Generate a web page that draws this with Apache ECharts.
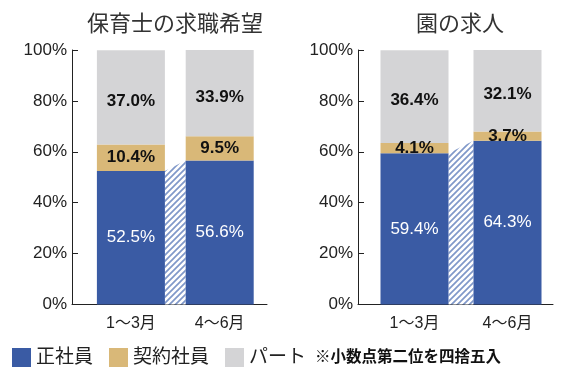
<!DOCTYPE html>
<html>
<head>
<meta charset="utf-8">
<script src="https://cdn.jsdelivr.net/npm/echarts@6/dist/echarts.min.js"></script>
<style>
  html, body { margin: 0; padding: 0; background: #fff; }
  #chart-holder { width: 587px; height: 377px; }
</style>
</head>
<body>
<div id="chart-holder"></div>
<script>
// categories and values
var categories = ['1～3月', '4～6月'];
var seriesNames = ['正社員', '契約社員', 'パート'];
var titles = ['保育士の求職希望', '園の求人'];
var note = '※小数点第二位を四捨五入';

// 保育士の求職希望
var seekerRegular = [52.5, 56.6];
var seekerContract = [10.4, 9.5];
var seekerPart = [37.0, 33.9];

// 園の求人
var offerRegular = [59.4, 64.3];
var offerContract = [4.1, 3.7];
var offerPart = [36.4, 32.1];

var BLUE = '#3A5BA4';
var TAN = '#D9B878';
var GRAY = '#D4D4D6';
var FONT = '"Liberation Sans", "Noto Sans CJK JP", sans-serif';
var BAR_W = 68;

var dom = document.getElementById('chart-holder');
var myChart = echarts.init(dom, null, { renderer: 'canvas' });

// diagonal hatch used for the band that joins the two blue bars
function makeHatch() {
  var c = document.createElement('canvas');
  c.width = 6;
  c.height = 6;
  var ctx = c.getContext('2d');
  ctx.fillStyle = '#fff';
  ctx.fillRect(0, 0, 6, 6);
  ctx.strokeStyle = '#8098C9';
  ctx.lineWidth = 1.7;
  ctx.beginPath();
  ctx.moveTo(-1, 7); ctx.lineTo(7, -1);
  ctx.moveTo(-4, 4); ctx.lineTo(4, -4);
  ctx.moveTo(2, 10); ctx.lineTo(10, 2);
  ctx.stroke();
  return { image: c, repeat: 'repeat' };
}
var hatch = makeHatch();

function renderBridge(params, api) {
  var top0 = api.coord([api.value(0), api.value(1)]);
  var top1 = api.coord([api.value(2), api.value(3)]);
  var base0 = api.coord([api.value(0), 0]);
  var base1 = api.coord([api.value(2), 0]);
  var h = BAR_W / 2;
  return {
    type: 'polygon',
    shape: {
      points: [
        [top0[0] + h, top0[1]],
        [top1[0] - h, top1[1]],
        [base1[0] - h, base1[1]],
        [base0[0] + h, base0[1]]
      ]
    },
    style: { fill: hatch }
  };
}

function pct(p) {
  return p.value.toFixed(1) + '%';
}

function stackSeries(axis, regular, contract, part) {
  var dark = { show: true, position: 'inside', formatter: pct, color: '#111', fontSize: 17, fontWeight: 'bold', fontFamily: FONT };
  return [
    {
      type: 'custom',
      xAxisIndex: axis, yAxisIndex: axis,
      renderItem: renderBridge,
      encode: { x: [0, 2], y: [1, 3] },
      data: [[0, regular[0], 1, regular[1]]],
      silent: true
    },
    {
      name: seriesNames[0], type: 'bar', stack: 's' + axis,
      xAxisIndex: axis, yAxisIndex: axis, barWidth: BAR_W,
      itemStyle: { color: BLUE },
      label: { show: true, position: 'inside', formatter: pct, color: '#fff', fontSize: 17, fontFamily: FONT },
      data: regular
    },
    {
      name: seriesNames[1], type: 'bar', stack: 's' + axis,
      xAxisIndex: axis, yAxisIndex: axis, barWidth: BAR_W,
      itemStyle: { color: TAN },
      label: dark,
      data: contract
    },
    {
      name: seriesNames[2], type: 'bar', stack: 's' + axis,
      xAxisIndex: axis, yAxisIndex: axis, barWidth: BAR_W,
      itemStyle: { color: GRAY },
      label: Object.assign({}, dark, { offset: [0, 4] }),
      data: part
    }
  ];
}

function frameX(grid) {
  return {
    gridIndex: grid, type: 'value', min: 0, max: 1,
    axisLine: { show: true, lineStyle: { color: '#222', width: 1 } },
    axisTick: { show: false }, axisLabel: { show: false }, splitLine: { show: false }
  };
}
function frameY(grid) {
  return {
    gridIndex: grid, type: 'value', min: 0, max: 100, interval: 20,
    axisLine: { show: true, lineStyle: { color: '#222', width: 1 } },
    axisTick: { show: true, inside: true, length: 6, lineStyle: { color: '#222' } },
    axisLabel: { formatter: '{value}%', color: '#222', fontSize: 17, margin: 5, fontFamily: FONT },
    splitLine: { show: false }
  };
}
function barX(grid) {
  return {
    gridIndex: grid, type: 'category', data: categories,
    axisLine: { show: false }, axisTick: { show: false },
    axisLabel: { color: '#222', fontSize: 16, margin: 11, fontFamily: FONT }
  };
}
function barY(grid) {
  return { gridIndex: grid, type: 'value', min: 0, max: 100, show: false };
}

var titleStyle = { color: '#333', fontSize: 22, fontWeight: 'normal', fontFamily: FONT };

var option = {
  backgroundColor: '#fff',
  animation: false,
  title: [
    { text: titles[0], left: 175, top: 14, padding: 0, textAlign: 'center', textStyle: titleStyle },
    { text: titles[1], left: 460, top: 14, padding: 0, textAlign: 'center', textStyle: titleStyle },
    { text: note, left: 315, top: 350, padding: 0, textStyle: { color: '#111', fontSize: 15.5, fontWeight: 'bold', fontFamily: FONT } }
  ],
  legend: {
    data: seriesNames,
    left: 12, top: 348, padding: 0,
    icon: 'rect', itemWidth: 19, itemHeight: 19, itemGap: 16,
    textStyle: { color: '#222', fontSize: 19, fontFamily: FONT },
    selectedMode: false
  },
  grid: [
    { left: 72, width: 195, top: 50, bottom: 72.5 },
    { left: 86.5, width: 177.6, top: 50, bottom: 72.5 },
    { left: 358, width: 195, top: 50, bottom: 72.5 },
    { left: 368, width: 186, top: 50, bottom: 72.5 }
  ],
  xAxis: [frameX(0), barX(1), frameX(2), barX(3)],
  yAxis: [frameY(0), barY(1), frameY(2), barY(3)],
  series: []
};

option.series = stackSeries(1, seekerRegular, seekerContract, seekerPart)
  .concat(stackSeries(3, offerRegular, offerContract, offerPart));

myChart.setOption(option);
</script>
</body>
</html>
